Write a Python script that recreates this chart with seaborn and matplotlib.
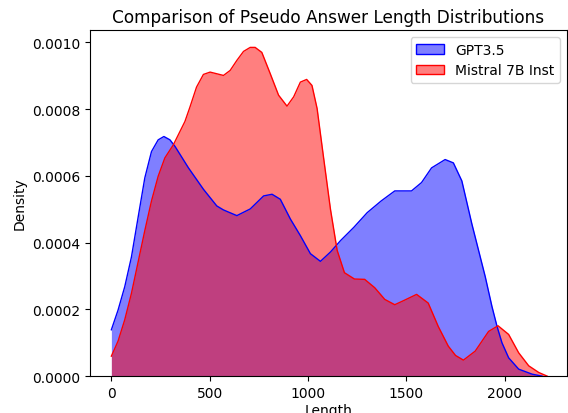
import numpy as np
import pandas as pd
import matplotlib
matplotlib.use("Agg")
import matplotlib.pyplot as plt
import seaborn as sns
from matplotlib.patches import Patch

# Density curves (density in units of 1e-4)
gpt_x = [0, 34, 68, 102, 136, 170, 204, 238, 267, 298, 324, 392, 468, 536, 570,
         638, 706, 774, 817, 859, 910, 961, 1012, 1063, 1114, 1165, 1233, 1301,
         1372, 1441, 1526, 1577, 1628, 1697, 1739, 1782, 1833, 1867, 1901, 1935,
         1961, 1986, 2020, 2071, 2139, 2190]
gpt_y = [1.39, 1.98, 2.68, 3.57, 4.76, 5.94, 6.73, 7.08, 7.18, 7.08, 6.88, 6.24,
         5.60, 5.10, 4.98, 4.81, 5.01, 5.40, 5.45, 5.30, 4.71, 4.21, 3.67, 3.44,
         3.72, 4.06, 4.46, 4.90, 5.25, 5.55, 5.55, 5.80, 6.24, 6.49, 6.39, 5.85,
         4.56, 3.77, 2.98, 2.09, 1.49, 1.00, 0.55, 0.21, 0.06, 0.0]

mis_x = [0, 34, 68, 102, 136, 170, 204, 238, 272, 315, 374, 400, 433, 468, 502,
         536, 570, 604, 638, 672, 706, 731, 765, 808, 850, 893, 927, 961, 993,
         1020, 1046, 1080, 1114, 1148, 1185, 1236, 1288, 1339, 1390, 1441, 1492,
         1552, 1611, 1662, 1713, 1750, 1790, 1850, 1918, 1966, 2020, 2071, 2122,
         2173, 2216]
mis_y = [0.60, 1.05, 1.69, 2.48, 3.42, 4.36, 5.25, 5.99, 6.54, 6.93, 7.63, 8.07,
         8.66, 9.04, 9.11, 9.06, 9.01, 9.16, 9.46, 9.73, 9.85, 9.85, 9.70, 9.06,
         8.42, 8.09, 8.37, 8.81, 8.89, 8.71, 8.02, 6.50, 5.00, 3.77, 3.10, 2.91,
         2.90, 2.65, 2.30, 2.14, 2.28, 2.45, 2.19, 1.49, 0.90, 0.62, 0.48, 0.75,
         1.34, 1.51, 1.25, 0.70, 0.31, 0.11, 0.0]

labels = ["GPT3.5", "Mistral 7B Inst"]
colors = ["blue", "red"]
x_ticks = [0, 500, 1000, 1500, 2000]
y_ticks = [0.0, 0.0002, 0.0004, 0.0006, 0.0008, 0.0010]

df = pd.concat([
    pd.DataFrame({"Length": gpt_x, "Density": np.array(gpt_y) * 1e-4, "Model": labels[0]}),
    pd.DataFrame({"Length": mis_x, "Density": np.array(mis_y) * 1e-4, "Model": labels[1]}),
])

fig = plt.figure(figsize=(5.68, 4.14), dpi=100)
ax = fig.add_axes([0.158, 0.089, 0.84, 0.836])

sns.lineplot(data=df, x="Length", y="Density", hue="Model",
             palette=dict(zip(labels, colors)), linewidth=1, legend=False, ax=ax)
for lab, col in zip(labels, colors):
    sub = df[df["Model"] == lab]
    ax.fill_between(sub["Length"], sub["Density"], color=col, alpha=0.5, linewidth=0)

ax.set_xlim(-110, 2316)
ax.set_ylim(0, 0.001037)
ax.set_xticks(x_ticks)
ax.set_yticks(y_ticks)
ax.set_yticklabels([f"{v:.4f}" for v in y_ticks])
ax.tick_params(labelsize=10)
ax.set_xlabel("Length", fontsize=10, labelpad=2)
ax.set_ylabel("Density", fontsize=10)
ax.set_title("Comparison of Pseudo Answer Length Distributions", fontsize=12.2)

handles = [Patch(facecolor=(0, 0, 1, 0.5), edgecolor="blue"),
           Patch(facecolor=(1, 0, 0, 0.5), edgecolor="red")]
ax.legend(handles, labels, loc="upper right", fontsize=10)

fig.savefig("out.png", dpi=100)
